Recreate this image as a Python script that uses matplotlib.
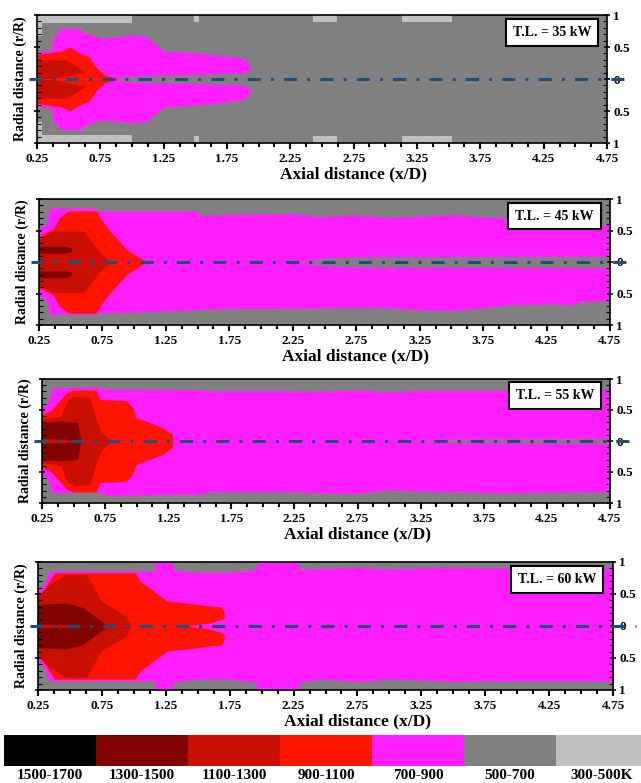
import numpy as np
import matplotlib.pyplot as plt
from matplotlib.ticker import FixedLocator, MultipleLocator

plt.rcParams['font.family'] = ['Liberation Serif', 'DejaVu Serif']
plt.rcParams['font.weight'] = 'bold'

# temperature bands and legend colours
band_labels = ['1500-1700', '1300-1500', '1100-1300', '900-1100', '700-900', '500-700', '300-500K']
band_colors = ['#000000', '#820400', '#c80f00', '#ff1400', '#ff1eff', '#808080', '#c0c0c0']
load_labels = ['T.L. = 35 kW', 'T.L. = 45 kW', 'T.L. = 55 kW', 'T.L. = 60 kW']

x_ticks = [0.25, 0.75, 1.25, 1.75, 2.25, 2.75, 3.25, 3.75, 4.25, 4.75]
r_ticks = [1, 0.5, 0, -0.5, -1]
r_tick_labels = ['1', '0.5', '0', '0.5', '1']

# ---- panel 1 (35 kW) ----
p1_cool_x0 = [0.25, 0.25, 1.49, 2.43, 3.13]
p1_cool_x1 = [1.00, 0.29, 1.53, 2.62, 3.53]
p1_cool_depth = [0.12, 0.33, 0.11, 0.11, 0.11]
p1_mag_x = [0.25, 0.36, 0.38, 0.44, 0.58, 0.63, 0.76, 0.88, 1.00, 1.12, 1.25, 1.50, 1.75, 1.86, 1.91, 1.93]
p1_mag_top = [0.43, 0.45, 0.66, 0.79, 0.79, 0.72, 0.64, 0.66, 0.69, 0.66, 0.44, 0.41, 0.36, 0.33, 0.28, 0.20]
p1_core_x = [0.86, 0.95, 1.25, 1.50, 1.75, 1.86, 1.91, 1.95]
p1_core_r = [0.00, 0.04, 0.06, 0.07, 0.09, 0.09, 0.12, 0.12]
p1_red_x = [0.25, 0.45, 0.51, 0.57, 0.66, 0.72, 0.78, 0.88]
p1_red_top = [0.38, 0.44, 0.50, 0.42, 0.35, 0.18, 0.07, 0.00]
p1_dred_x = [0.25, 0.36, 0.48, 0.55, 0.60, 0.63]
p1_dred_top = [0.30, 0.30, 0.30, 0.22, 0.15, 0.11]
p1_dred_in = [0.00, 0.01, 0.05, 0.08, 0.10, 0.11]

# ---- panel 2 (45 kW) ----
p2_mag_x = [0.25, 0.31, 0.33, 0.69, 0.72, 1.49, 1.53, 1.80, 2.25, 2.46, 2.72, 2.99, 3.25, 3.51, 3.88, 3.94,
            4.20, 4.30, 4.46, 4.51, 4.75]
p2_mag_top = [0.55, 0.60, 0.86, 0.86, 0.81, 0.81, 0.74, 0.76, 0.77, 0.72, 0.75, 0.71, 0.73, 0.75, 0.70, 0.68,
              0.63, 0.61, 0.60, 0.59, 0.59]
p2_mag_bot = [-0.55, -0.60, -0.83, -0.83, -0.81, -0.76, -0.75, -0.74, -0.74, -0.73, -0.72, -0.73, -0.76, -0.77,
              -0.70, -0.68, -0.67, -0.66, -0.68, -0.63, -0.61]
p2_core_x = [2.30, 2.50, 2.70, 4.75]
p2_core_r = [0.00, 0.06, 0.08, 0.09]
p2_red_x = [0.25, 0.36, 0.41, 0.48, 0.70, 0.755, 0.81, 0.94, 1.04, 1.10]
p2_red_top = [0.41, 0.52, 0.70, 0.81, 0.81, 0.63, 0.49, 0.20, 0.07, 0.00]
p2_dred_x = [0.25, 0.36, 0.60, 0.73, 0.81]
p2_dred_top = [0.36, 0.49, 0.49, 0.15, 0.00]
p2_mar_x = [0.25, 0.45, 0.50, 0.51]
p2_mar_top = [0.25, 0.25, 0.23, 0.20]
p2_mar_in = [0.14, 0.14, 0.16, 0.20]

# ---- panel 3 (55 kW) ----
p3_mag_x = [0.25, 0.29, 0.33, 0.71, 0.75, 1.49, 1.60, 2.25, 2.45, 2.72, 2.98, 3.24, 3.89, 4.75]
p3_mag_top = [0.54, 0.60, 0.86, 0.87, 0.84, 0.83, 0.81, 0.81, 0.80, 0.83, 0.79, 0.82, 0.82, 0.82]
p3_mag_bot = [-0.54, -0.60, -0.83, -0.83, -0.88, -0.86, -0.82, -0.82, -0.84, -0.85, -0.79, -0.81, -0.84, -0.82]
p3_core_x = [3.20, 3.50, 4.75]
p3_core_r = [0.00, 0.03, 0.04]
p3_red_x = [0.25, 0.315, 0.446, 0.50, 0.68, 0.707, 0.916, 0.968, 0.994, 1.20, 1.28, 1.29]
p3_red_top = [0.43, 0.48, 0.78, 0.82, 0.82, 0.67, 0.65, 0.54, 0.38, 0.22, 0.11, 0.00]
p3_dred_x = [0.25, 0.40, 0.45, 0.50, 0.63, 0.68, 0.72, 0.80]
p3_dred_top = [0.35, 0.40, 0.65, 0.72, 0.70, 0.35, 0.15, 0.00]
p3_mar_x = [0.25, 0.40, 0.53, 0.55, 0.56]
p3_mar_top = [0.30, 0.32, 0.30, 0.10, 0.00]
p3_mar_in = [0.04, 0.03, 0.00, 0.00, 0.00]

# ---- panel 4 (60 kW) ----
p4_mag_x = [0.25, 0.29, 0.34, 1.16, 1.17, 1.30, 1.31, 1.50, 1.75, 1.95, 1.97, 2.28, 2.30, 2.46, 2.77, 2.98,
            3.24, 3.50, 3.75, 4.75]
p4_mag_top = [0.55, 0.62, 0.86, 0.86, 1.00, 1.00, 0.88, 0.84, 0.84, 0.88, 1.00, 1.00, 0.89, 0.90, 0.92, 0.89,
              0.91, 0.92, 0.91, 0.90]
p4_mag_bot = [-0.55, -0.62, -0.86, -0.86, -1.00, -1.00, -0.88, -0.83, -0.83, -0.88, -1.00, -1.00, -0.88, -0.83,
              -0.87, -0.83, -0.84, -0.87, -0.86, -0.86]
p4_red_x = [0.25, 0.315, 0.38, 1.01, 1.05, 1.26, 1.41, 1.60, 1.68, 1.70, 1.71]
p4_red_top = [0.44, 0.63, 0.83, 0.83, 0.70, 0.39, 0.36, 0.31, 0.30, 0.25, 0.15]
p4_red_in = [0.00, 0.00, 0.00, 0.00, 0.00, 0.00, 0.00, 0.05, 0.10, 0.12, 0.15]
p4_dred_x = [0.25, 0.34, 0.47, 0.63, 0.71, 0.74, 0.94, 0.98]
p4_dred_top = [0.47, 0.65, 0.80, 0.80, 0.52, 0.39, 0.16, 0.00]
p4_mar_x = [0.25, 0.47, 0.60, 0.73, 0.79]
p4_mar_top = [0.34, 0.36, 0.29, 0.10, 0.00]
p4_mar_in = [0.03, 0.02, 0.00, 0.00, 0.00]

# axes boxes in pixels: left, right, top, bottom
W, H = 641, 783
boxes = [(37, 607, 15, 143), (39, 610, 199, 325), (42, 610, 379, 503), (38, 613, 562, 690)]

mag_c, red_c, dred_c, mar_c, warm_c, cool_c = (band_colors[4], band_colors[3], band_colors[2],
                                             band_colors[1], band_colors[5], band_colors[6])


def band(ax, x, top, color, inner=None, bot=None):
    # fill a region symmetric about the centre line (or with its own lower edge)
    x = np.asarray(x)
    top = np.asarray(top)
    if bot is None:
        inner = np.zeros_like(top) if inner is None else np.asarray(inner)
        ax.fill_between(x, inner, top, color=color, lw=0)
        ax.fill_between(x, -top, -inner, color=color, lw=0)
    else:
        ax.fill_between(x, bot, top, color=color, lw=0)


panels = [
    dict(cool=(p1_cool_x0, p1_cool_x1, p1_cool_depth),
         layers=[(p1_mag_x, p1_mag_top, mag_c, None, None),
                 (p1_core_x, p1_core_r, warm_c, None, None),
                 (p1_red_x, p1_red_top, red_c, None, None),
                 (p1_dred_x, p1_dred_top, dred_c, p1_dred_in, None)]),
    dict(cool=None,
         layers=[(p2_mag_x, p2_mag_top, mag_c, None, p2_mag_bot),
                 (p2_core_x, p2_core_r, warm_c, None, None),
                 (p2_red_x, p2_red_top, red_c, None, None),
                 (p2_dred_x, p2_dred_top, dred_c, None, None),
                 (p2_mar_x, p2_mar_top, mar_c, p2_mar_in, None)]),
    dict(cool=None,
         layers=[(p3_mag_x, p3_mag_top, mag_c, None, p3_mag_bot),
                 (p3_core_x, p3_core_r, warm_c, None, None),
                 (p3_red_x, p3_red_top, red_c, None, None),
                 (p3_dred_x, p3_dred_top, dred_c, None, None),
                 (p3_mar_x, p3_mar_top, mar_c, p3_mar_in, None)]),
    dict(cool=None,
         layers=[(p4_mag_x, p4_mag_top, mag_c, None, p4_mag_bot),
                 (p4_red_x, p4_red_top, red_c, p4_red_in, None),
                 (p4_dred_x, p4_dred_top, dred_c, None, None),
                 (p4_mar_x, p4_mar_top, mar_c, p4_mar_in, None)]),
]

fig = plt.figure(figsize=(W / 100, H / 100), dpi=100)

for (l, r, t, b), pan, load in zip(boxes, panels, load_labels):
    ax = fig.add_axes([l / W, 1 - b / H, (r - l) / W, (b - t) / H])
    ax.set_facecolor(warm_c)

    # cooler 300-500 K patches along the walls
    if pan['cool'] is not None:
        for x0, x1, d in zip(*pan['cool']):
            ax.fill_between([x0, x1], [1 - d, 1 - d], [1, 1], color=cool_c, lw=0)
            ax.fill_between([x0, x1], [-1, -1], [-1 + d, -1 + d], color=cool_c, lw=0)

    for x, top, c, inner, bot in pan['layers']:
        band(ax, x, top, c, inner, bot)

    # centre line
    ax.plot([0.19, 4.93], [0, 0], color='#1f4e79', lw=2.2, ls=(0, (4.3, 3.3, 1.0, 3.3)),
            clip_on=False, zorder=5)

    ax.set_xlim(0.25, 4.75)
    ax.set_ylim(-1, 1)
    ax.xaxis.set_major_locator(FixedLocator(x_ticks))
    ax.xaxis.set_minor_locator(MultipleLocator(0.125))
    ax.set_xticklabels(['%.2f' % v for v in x_ticks])
    ax.yaxis.set_major_locator(FixedLocator(r_ticks))
    ax.yaxis.set_minor_locator(MultipleLocator(0.1))
    ax.set_yticklabels(r_tick_labels)
    ax.tick_params(axis='x', which='major', direction='out', length=4, width=1.5, labelsize=9.5, pad=3)
    ax.tick_params(axis='x', which='minor', direction='out', length=3, width=1.5)
    ax.tick_params(axis='y', which='both', left=True, right=True, labelleft=False, labelright=True,
                   labelsize=9.5, pad=2)
    ax.tick_params(axis='y', which='major', direction='inout', length=5, width=1.2)
    ax.tick_params(axis='y', which='minor', direction='in', length=3, width=0.8)
    for s in ax.spines.values():
        s.set_linewidth(1.2)

    ax.set_xlabel('Axial distance (x/D)', fontsize=12.5, fontweight='bold', x=0.555, labelpad=1)
    ax.set_ylabel('Radial distance (r/R)', fontsize=10, fontweight='bold', labelpad=5)

    ax.text(0.903, 0.865, load, transform=ax.transAxes, ha='center', va='center', fontsize=10,
            fontweight='bold', zorder=6,
            bbox=dict(boxstyle='square,pad=0.5', fc='white', ec='black', lw=1.5))

# colour key
cax = fig.add_axes([4 / W, 1 - 766 / H, (W - 4) / W, 31 / H])
pos = np.arange(len(band_labels)) + 0.5
cax.bar(pos, np.ones(len(pos)), width=1.0, color=band_colors, lw=0)
cax.set_xlim(0, (W - 4) / 92)
cax.set_ylim(0, 1)
cax.axis('off')
for p, lab in zip(pos, band_labels):
    cax.text(p, -0.3, lab, ha='center', va='center', fontsize=11, fontweight='bold', clip_on=False)

fig.savefig('out.png', dpi=100)
